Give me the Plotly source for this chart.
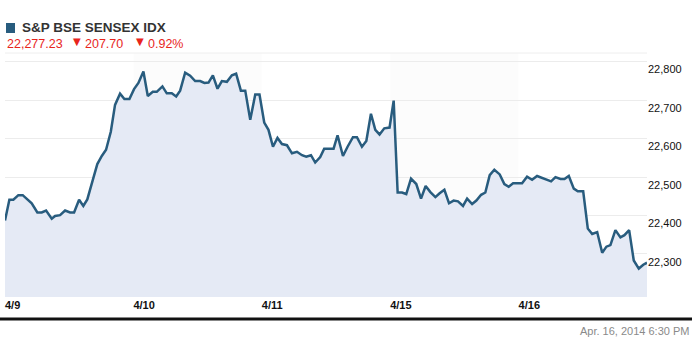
import plotly.graph_objects as go

# Trading-day offset (0 = open of 4/9, 1 = open of 4/10, ...)
t_day = [0.000, 0.034, 0.065, 0.104, 0.138, 0.169, 0.208, 0.252, 0.286, 0.320,
         0.364, 0.390, 0.429, 0.468, 0.507, 0.538, 0.577, 0.610, 0.641, 0.684,
         0.719, 0.754, 0.787, 0.824, 0.857, 0.896, 0.930, 0.969, 1.005, 1.039,
         1.078, 1.112, 1.151, 1.182, 1.226, 1.260, 1.299, 1.333, 1.364, 1.403,
         1.442, 1.481, 1.520, 1.553, 1.585, 1.619, 1.655, 1.689, 1.728, 1.767,
         1.800, 1.837, 1.871, 1.910, 1.949, 1.982, 2.019, 2.052, 2.087, 2.122,
         2.157, 2.196, 2.235, 2.274, 2.313, 2.346, 2.383, 2.416, 2.455, 2.486,
         2.528, 2.559, 2.590, 2.632, 2.668, 2.710, 2.741, 2.780, 2.814, 2.850,
         2.884, 2.917, 2.954, 2.995, 3.027, 3.058, 3.092, 3.125, 3.162, 3.203,
         3.240, 3.276, 3.313, 3.352, 3.385, 3.422, 3.458, 3.494, 3.528, 3.567,
         3.599, 3.638, 3.671, 3.708, 3.741, 3.775, 3.811, 3.853, 3.889, 3.923,
         3.957, 3.993, 4.027, 4.066, 4.105, 4.144, 4.183, 4.222, 4.253, 4.287,
         4.326, 4.357, 4.391, 4.430, 4.461, 4.503, 4.539, 4.573, 4.612, 4.651,
         4.684, 4.715, 4.754, 4.793, 4.824, 4.861, 4.897, 4.936, 4.971, 5.000]

index_value = [22387, 22441, 22441, 22453, 22453, 22444, 22432, 22408, 22408, 22413,
               22392, 22399, 22401, 22413, 22408, 22408, 22441, 22425, 22442, 22493,
               22534, 22555, 22571, 22618, 22688, 22717, 22703, 22703, 22729, 22745,
               22775, 22711, 22722, 22722, 22736, 22718, 22718, 22710, 22725, 22772,
               22764, 22750, 22750, 22745, 22746, 22765, 22730, 22750, 22748, 22765,
               22769, 22725, 22725, 22649, 22715, 22715, 22642, 22623, 22579, 22602,
               22586, 22583, 22562, 22566, 22557, 22553, 22557, 22538, 22552, 22574,
               22574, 22574, 22609, 22555, 22579, 22604, 22604, 22579, 22594, 22665,
               22623, 22611, 22627, 22629, 22699, 22460, 22460, 22456, 22496, 22482,
               22444, 22477, 22461, 22448, 22458, 22467, 22432, 22439, 22437, 22425,
               22444, 22430, 22439, 22454, 22460, 22505, 22519, 22507, 22482, 22475,
               22484, 22484, 22484, 22501, 22493, 22503, 22498, 22495, 22489, 22500,
               22495, 22495, 22503, 22470, 22463, 22463, 22366, 22352, 22357, 22303,
               22319, 22323, 22362, 22343, 22349, 22362, 22283, 22262, 22272, 22277.23]

day_ticks = [0, 1, 2, 3, 4]
day_labels = ["4/9", "4/10", "4/11", "4/15", "4/16"]
y_ticks = [22300, 22400, 22500, 22600, 22700, 22800]

title_text = "S&P BSE SENSEX IDX"
last_text = "22,277.23"
change_text = "207.70"
pct_text = "0.92%"
stamp_text = "Apr. 16, 2014 6:30 PM"

LINE = "#285c7e"
FILL = "#e5eaf5"
RED = "#e8251c"

fig = go.Figure()
fig.add_trace(go.Scatter(
    x=t_day, y=index_value, mode="lines",
    line=dict(color=LINE, width=2.5),
    fill="tozeroy", fillcolor=FILL,
    hoverinfo="skip", showlegend=False,
))

shapes = []
# alternating day bands (very faint)
for d0 in [1, 3]:
    shapes.append(dict(type="rect", xref="x", yref="paper", x0=d0, x1=d0 + 1,
                       y0=0, y1=1, fillcolor="rgba(0,0,0,0.012)", line_width=0,
                       layer="below"))
# top border
shapes.append(dict(type="line", xref="paper", yref="paper", x0=0, x1=1, y0=1, y1=1,
                   line=dict(color="#eeeeee", width=1), layer="below"))
# legend square
shapes.append(dict(type="rect", xref="paper", yref="paper",
                   x0=0.0016, x1=0.0156, y0=1.082, y1=1.123,
                   fillcolor=LINE, line_width=0))
# heavy rule at the bottom
shapes.append(dict(type="line", xref="paper", yref="paper",
                   x0=-0.01, x1=1.08, y0=-0.090, y1=-0.090,
                   line=dict(color="#111111", width=3)))

ann_font = "Liberation Sans, Arial, sans-serif"
annotations = [
    dict(text="<b>" + title_text.replace("&", "&amp;") + "</b>", xref="paper", yref="paper",
         x=0.0234, y=1.1025, xanchor="left", yanchor="middle", showarrow=False,
         font=dict(family=ann_font, size=13.5, color="#333333")),
    dict(text=last_text, xref="paper", yref="paper", x=0.0, y=1.0369,
         xanchor="left", yanchor="middle", showarrow=False,
         font=dict(family=ann_font, size=12.5, color=RED)),
    dict(text="▼", xref="paper", yref="paper", x=(71 - 5) / 642, y=1.047,
         xanchor="left", yanchor="middle", showarrow=False,
         font=dict(family="DejaVu Sans", size=10, color=RED)),
    dict(text=change_text, xref="paper", yref="paper", x=(83 - 5) / 642, y=1.0369,
         xanchor="left", yanchor="middle", showarrow=False,
         font=dict(family=ann_font, size=12.5, color=RED)),
    dict(text="▼", xref="paper", yref="paper", x=(134 - 5) / 642, y=1.047,
         xanchor="left", yanchor="middle", showarrow=False,
         font=dict(family="DejaVu Sans", size=10, color=RED)),
    dict(text=pct_text, xref="paper", yref="paper", x=(146 - 5) / 642, y=1.0369,
         xanchor="left", yanchor="middle", showarrow=False,
         font=dict(family=ann_font, size=12.5, color=RED)),
    dict(text=stamp_text, xref="paper", yref="paper", x=(691 - 5) / 642, y=-0.139,
         xanchor="right", yanchor="middle", showarrow=False,
         font=dict(family=ann_font, size=11, color="#8a8a8a")),
]

fig.update_layout(
    width=692, height=338,
    margin=dict(l=5, r=45, t=53, b=41),
    paper_bgcolor="white", plot_bgcolor="white",
    shapes=shapes, annotations=annotations,
    font=dict(family=ann_font),
    xaxis=dict(range=[0, 5.0], tickvals=day_ticks,
               ticktext=["<b>" + s + "</b>" for s in day_labels],
               ticklabelposition="outside right", showgrid=False, zeroline=False,
               showline=False, ticks="",
               tickfont=dict(family=ann_font, size=11, color="#111111"),
               fixedrange=True),
    yaxis=dict(range=[22188, 22823], side="right", tickvals=y_ticks,
               tickformat=",d", ticklabelposition="outside bottom",
               showgrid=True, gridcolor="#ececec", gridwidth=1, zeroline=False,
               showline=False, ticks="",
               tickfont=dict(family=ann_font, size=11, color="#111111"),
               fixedrange=True),
)

fig.write_html("out.html")
